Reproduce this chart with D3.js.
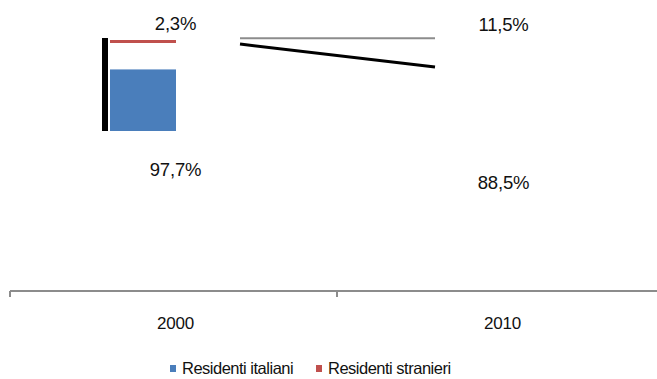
<!DOCTYPE html>
<html>
<head>
<meta charset="utf-8">
<script src="https://cdn.jsdelivr.net/npm/d3@7"></script>
<style>
  body { margin: 0; background: #fff; }
  text { font-family: "Liberation Sans", Arial, sans-serif; fill: #111; }
</style>
</head>
<body>
<svg width="657" height="379"></svg>
<script>
const categories = ["2000", "2010"];
const italiani = [97.7, 88.5];
const stranieri = [2.3, 11.5];
const series = ["Residenti italiani", "Residenti stranieri"];
const colors = ["#4a7ebb", "#c0504d"];

const svg = d3.select("svg");

// category bands along the bottom axis
const x = d3.scaleBand().domain(categories).range([10, 664]);
const axisY = 291;

// bar scale (left block) and line scale (connector between years)
const yBar = d3.scaleLinear().domain([0, 150]).range([131, 38]);
const yLine = d3.scaleLinear().domain([88.5, 100]).range([67, 38.25]);

// axis
const axis = svg.append("g").attr("transform", `translate(0,${axisY})`);
axis.append("line")
  .attr("x1", x.range()[0]).attr("x2", 657)
  .attr("stroke", "#8c8c8c").attr("stroke-width", 2);
axis.selectAll(".tick")
  .data(categories)
  .join("line")
  .attr("x1", d => x(d)).attr("x2", d => x(d))
  .attr("y1", 0).attr("y2", 6)
  .attr("stroke", "#8c8c8c").attr("stroke-width", 2);
axis.selectAll(".lbl")
  .data(categories)
  .join("text")
  .attr("x", d => x(d) + x.bandwidth() / 2 + 2)
  .attr("y", 38)
  .attr("text-anchor", "middle")
  .style("font-size", "17px")
  .style("letter-spacing", "-0.2px")
  .text(d => d);

// left block: dark side, blue bar, red cap
const c0 = categories[0];
svg.append("rect")
  .attr("x", x(c0) + 92).attr("width", 6)
  .attr("y", yBar(150)).attr("height", yBar(0) - yBar(150))
  .attr("fill", "#000");
svg.append("rect")
  .attr("x", x(c0) + 100).attr("width", 66)
  .attr("y", yBar(italiani[0]) - 1).attr("height", yBar(0) - yBar(italiani[0]) + 1)
  .attr("fill", colors[0]);
svg.append("rect")
  .attr("x", x(c0) + 100).attr("width", 66)
  .attr("y", yBar(150) + 2).attr("height", 3)
  .attr("fill", colors[1]);

// connector lines between the two years
const x1 = x(categories[0]) + 230, x2 = x(categories[1]) + 98;
const totals = italiani.map((v, i) => v + stranieri[i]);
svg.append("line")
  .attr("x1", x1).attr("x2", x2)
  .attr("y1", yLine(totals[0])).attr("y2", yLine(totals[1]))
  .attr("stroke", "#8c8c8c").attr("stroke-width", 2);
svg.append("line")
  .attr("x1", x1).attr("x2", x2)
  .attr("y1", yLine(italiani[0])).attr("y2", yLine(italiani[1]))
  .attr("stroke", "#000").attr("stroke-width", 3);

// value labels
const fmt = v => v.toFixed(1).replace(".", ",") + "%";
const topY = [30, 31], botY = [176, 189], dx = [2, 3];
categories.forEach((c, i) => {
  const cx = x(c) + x.bandwidth() / 2 + dx[i];
  svg.append("text").attr("x", cx).attr("y", topY[i])
    .attr("text-anchor", "middle").style("font-size", "18.5px")
    .style("letter-spacing", "-0.2px").text(fmt(stranieri[i]));
  svg.append("text").attr("x", cx).attr("y", botY[i])
    .attr("text-anchor", "middle").style("font-size", "18.5px")
    .style("letter-spacing", "-0.2px").text(fmt(italiani[i]));
});

// legend
const legend = svg.append("g").attr("transform", "translate(170,365)");
const lx = [0, 146];
series.forEach((s, i) => {
  const g = legend.append("g").attr("transform", `translate(${lx[i]},0)`);
  g.append("rect").attr("width", 6).attr("height", 7).attr("fill", colors[i]);
  g.append("text").attr("x", 12).attr("y", 9)
    .style("font-size", "16.5px").style("letter-spacing", "-0.5px").text(s);
});
</script>
</body>
</html>
